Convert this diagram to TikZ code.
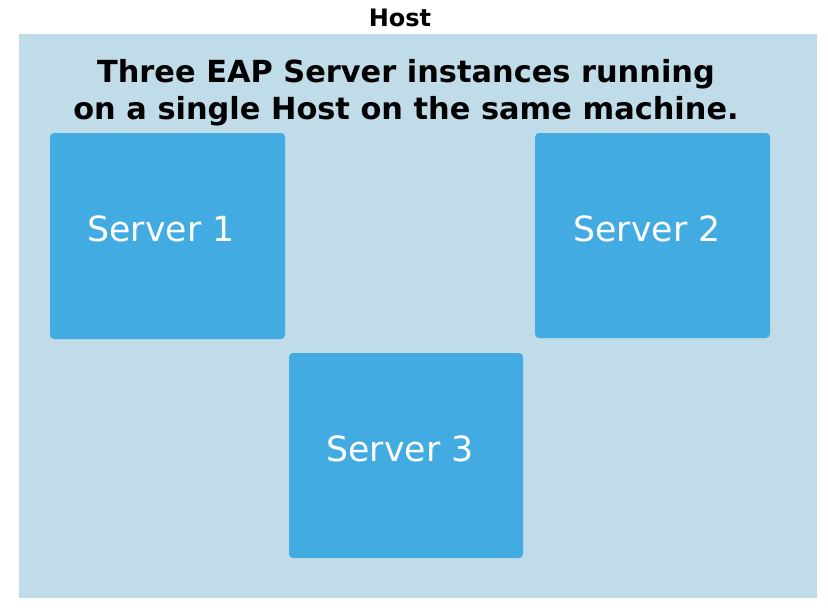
\documentclass[tikz,border=0pt]{standalone}
\usepackage{fontspec}
\setmainfont{DejaVu Sans}
\definecolor{hostbg}{HTML}{C0DCE8}
\definecolor{srvbg}{HTML}{42ACE2}
\tikzset{
  srv/.style={fill=srvbg, draw=none, rounded corners=4pt},
  srvlabel/.style={text=white, anchor=base, inner sep=0pt, font=\fontsize{34.7}{40}\selectfont},
  titlelabel/.style={anchor=base, inner sep=0pt, font=\bfseries\fontsize{30.4}{37}\selectfont},
}
\begin{document}
\begin{tikzpicture}[x=1pt,y=-1pt]
\useasboundingbox (0,0) rectangle (828,608);
\fill[hostbg] (19,34) rectangle (817,598);
\node[anchor=base, inner sep=0pt, font=\bfseries\fontsize{24}{28}\selectfont] (hostlbl) at (400,26) {Host};
\node[titlelabel] (t1) at (406,82) {Three EAP Server instances running};
\node[titlelabel] (t2) at (406,119) {on a single Host on the same machine.};
\fill[srv] (50,133) rectangle (285,339);
\fill[srv] (535,133) rectangle (770,338);
\fill[srv] (289,353) rectangle (523,558);
\node[srvlabel] (s1) at (161,241) {Server 1};
\node[srvlabel] (s2) at (647,241) {Server 2};
\node[srvlabel] (s3) at (400,461) {Server 3};
\end{tikzpicture}
\end{document}
